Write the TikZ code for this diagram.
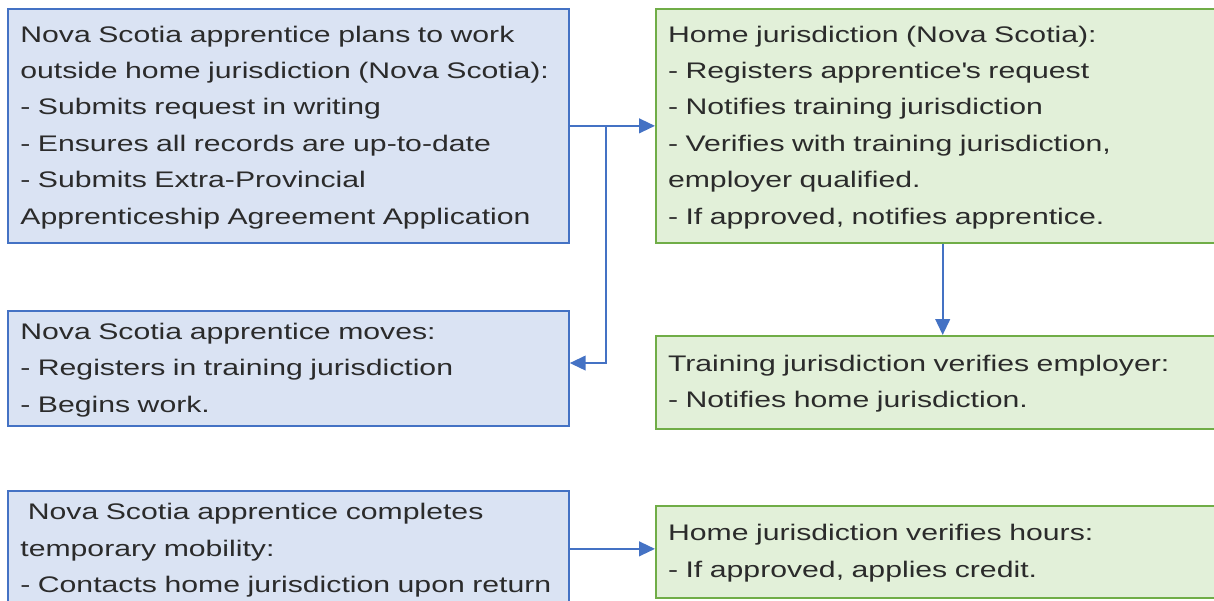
\documentclass[tikz,border=0pt]{standalone}
\usepackage{fontspec}
\setmainfont{Liberation Sans}[FakeStretch=1.34]
\usepackage{xcolor}
\usepackage{tikz}
\usetikzlibrary{arrows.meta}

\definecolor{boxblue}{HTML}{DAE3F3}
\definecolor{lineblue}{HTML}{4472C4}
\definecolor{boxgreen}{HTML}{E2F0D9}
\definecolor{linegreen}{HTML}{70AD47}
\definecolor{textgray}{HTML}{2B2B2B}

\newcommand{\boxlines}[1]{\begin{tabular}{@{}l@{}}#1\end{tabular}}

\begin{document}
\begin{tikzpicture}[x=0.75pt, y=-0.75pt,
    every node/.style={font=\fontsize{16.9pt}{27.3pt}\selectfont, text=textgray,
        anchor=north west, inner xsep=9pt, inner ysep=0pt, align=left},
    bluebox/.style={draw=lineblue, fill=boxblue, line width=1.3pt,
        minimum width=420.75pt, text width=402pt},
    greenbox/.style={draw=linegreen, fill=boxgreen, line width=1.3pt,
        minimum width=425.25pt, text width=407pt},
    arr/.style={-{Triangle[length=12pt,width=11pt]}, draw=lineblue, line width=1.6pt}]
            \useasboundingbox (0,0) rectangle (1214,600);
            \clip (0,0) rectangle (1214,600);

            % Apprentice side
            \node[bluebox, minimum height=175.5pt] (plans) at (7,8) {\boxlines{%
                Nova Scotia apprentice plans to work\\
                outside home jurisdiction (Nova Scotia):\\
                - Submits request in writing\\
                - Ensures all records are up-to-date\\
                - Submits Extra-Provincial\\
                Apprenticeship Agreement Application}};
            \node[bluebox, minimum height=86.25pt] (moves) at (7,310) {\boxlines{%
                Nova Scotia apprentice moves:\\
                - Registers in training jurisdiction\\
                - Begins work.}};
            \node[bluebox, minimum height=87pt] (completes) at (7,490) {\boxlines{%
                \ Nova Scotia apprentice completes\\
                temporary mobility:\\
                - Contacts home jurisdiction upon return}};

            % Jurisdiction side
            \node[greenbox, minimum height=175.5pt] (registers) at (655,8) {\boxlines{%
                Home jurisdiction (Nova Scotia):\\
                - Registers apprentice\textquotesingle s request\\
                - Notifies training jurisdiction\\
                - Verifies with training jurisdiction,\\
                employer qualified.\\
                - If approved, notifies apprentice.}};
            \node[greenbox, minimum height=69.75pt] (employer) at (655,335) {\boxlines{%
                Training jurisdiction verifies employer:\\
                - Notifies home jurisdiction.}};
            \node[greenbox, minimum height=69pt] (hours) at (655,505) {\boxlines{%
                Home jurisdiction verifies hours:\\
                - If approved, applies credit.}};

            % Arrows
            \coordinate (split) at ([xshift=27pt]plans.east);
            \draw[arr] (plans.east) -- (registers.west);
            \draw[arr] (split) |- ([yshift=4pt]moves.east);
            \draw[arr] ([xshift=2.5pt]registers.south) -- ([xshift=2.5pt]employer.north);
            \draw[arr] (completes.east) -- (completes.east -| hours.west);
        \end{tikzpicture}
\end{document}
